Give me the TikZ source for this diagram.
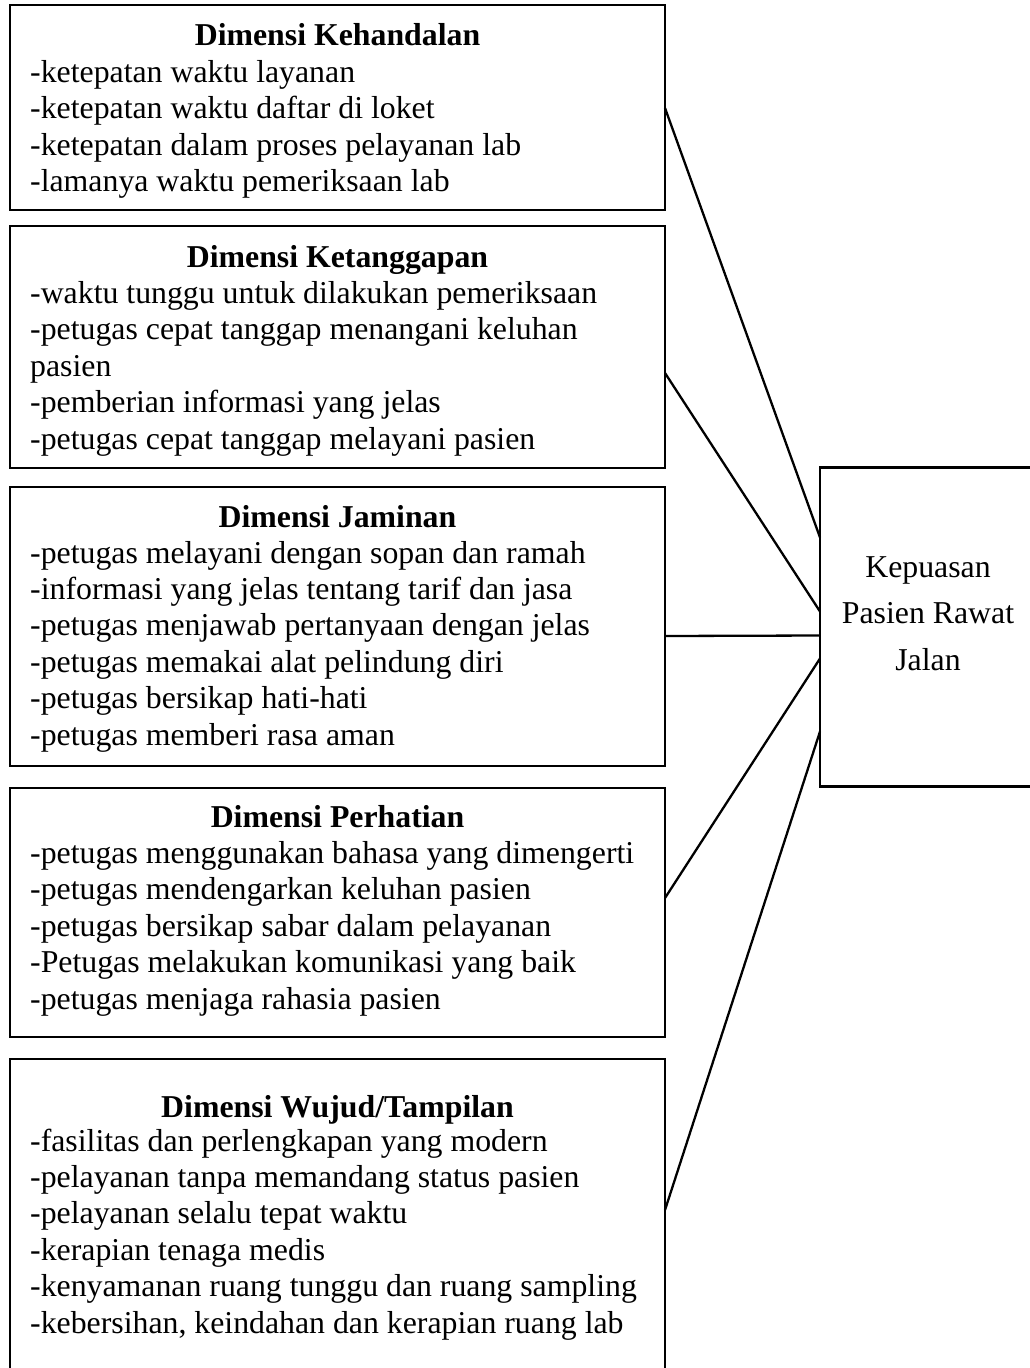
\documentclass[tikz,border=0pt]{standalone}
\usepackage{fontspec}
\setmainfont{Liberation Serif}
\usetikzlibrary{calc}
\begin{document}
\begin{tikzpicture}[x=1pt,y=-1pt,
  dimbox/.style={draw, line width=2.7pt, anchor=north west, minimum width=655pt, inner sep=0pt, outer sep=0pt},
  ttl/.style={anchor=base, inner sep=0pt, font=\fontsize{31.8}{36}\selectfont\bfseries},
  item/.style={anchor=base west, inner sep=0pt, font=\fontsize{31.8}{36}\selectfont},
  ktext/.style={anchor=base, inner sep=0pt, font=\fontsize{31.8}{36}\selectfont},
  conn/.style={line width=2.3pt}]
\useasboundingbox (0,0) rectangle (1029,1368);

% boxes
\node[dimbox, minimum height=205pt] (b1) at (10,5) {};
\node[dimbox, minimum height=242pt] (b2) at (10,226) {};
\node[dimbox, minimum height=279pt] (b3) at (10,487) {};
\node[dimbox, minimum height=249pt] (b4) at (10,788) {};
\node[dimbox, minimum height=313pt] (b5) at (10,1059) {};
\node[draw, line width=2.7pt, minimum width=216pt, minimum height=319pt, inner sep=0pt, outer sep=0pt] (k) at (928,627) {};

% titles
\node[ttl] (t1) at (337.5,45) {Dimensi Kehandalan};
\node[ttl] (t2) at (337.5,267) {Dimensi Ketanggapan};
\node[ttl] (t3) at (337.5,527) {Dimensi Jaminan};
\node[ttl] (t4) at (337.5,827) {Dimensi Perhatian};
\node[ttl] (t5) at (337.5,1117) {Dimensi Wujud/Tampilan};

% items
\foreach \t [count=\i from 0] in {-ketepatan waktu layanan, -ketepatan waktu daftar di loket, -ketepatan dalam proses pelayanan lab, -lamanya waktu pemeriksaan lab}
  \node[item] (b1i\i) at (30,{82+36.6*\i}) {\t};
\foreach \t [count=\i from 0] in {-waktu tunggu untuk dilakukan pemeriksaan, -petugas cepat tanggap menangani keluhan, pasien, -pemberian informasi yang jelas, -petugas cepat tanggap melayani pasien}
  \node[item] (b2i\i) at (30,{303+36.6*\i}) {\t};
\foreach \t [count=\i from 0] in {-petugas melayani dengan sopan dan ramah, -informasi yang jelas tentang tarif dan jasa, -petugas menjawab pertanyaan dengan jelas, -petugas memakai alat pelindung diri, -petugas bersikap hati-hati, -petugas memberi rasa aman}
  \node[item] (b3i\i) at (30,{563+36.4*\i}) {\t};
\foreach \t [count=\i from 0] in {-petugas menggunakan bahasa yang dimengerti, -petugas mendengarkan keluhan pasien, -petugas bersikap sabar dalam pelayanan, -Petugas melakukan komunikasi yang baik, -petugas menjaga rahasia pasien}
  \node[item] (b4i\i) at (30,{863+36.6*\i}) {\t};
\foreach \t [count=\i from 0] in {-fasilitas dan perlengkapan yang modern, -pelayanan tanpa memandang status pasien, -pelayanan selalu tepat waktu, -kerapian tenaga medis, -kenyamanan ruang tunggu dan ruang sampling, {-kebersihan, keindahan dan kerapian ruang lab}}
  \node[item] (b5i\i) at (30,{1151+36.4*\i}) {\t};

% right text
\node[ktext] (k1) at (928,577) {Kepuasan};
\node[ktext] (k2) at (928,623.5) {Pasien Rawat};
\node[ktext] (k3) at (928,670) {Jalan};

% connectors
\draw[conn] ($(b1.north east)+(0,103)$) -- ($(k.north west)+(0,70)$);
\draw[conn] ($(b2.north east)+(0,147)$) -- ($(k.north west)+(0,144)$);
\draw[conn] ($(b3.north east)+(0,149)$) -- ($(k.north west)+(0,168)$);
\draw[conn] ($(b4.north east)+(0,110)$) -- ($(k.north west)+(0,191)$);
\draw[conn] ($(b5.north east)+(0,151)$) -- ($(k.north west)+(0,264)$);
\end{tikzpicture}
\end{document}
